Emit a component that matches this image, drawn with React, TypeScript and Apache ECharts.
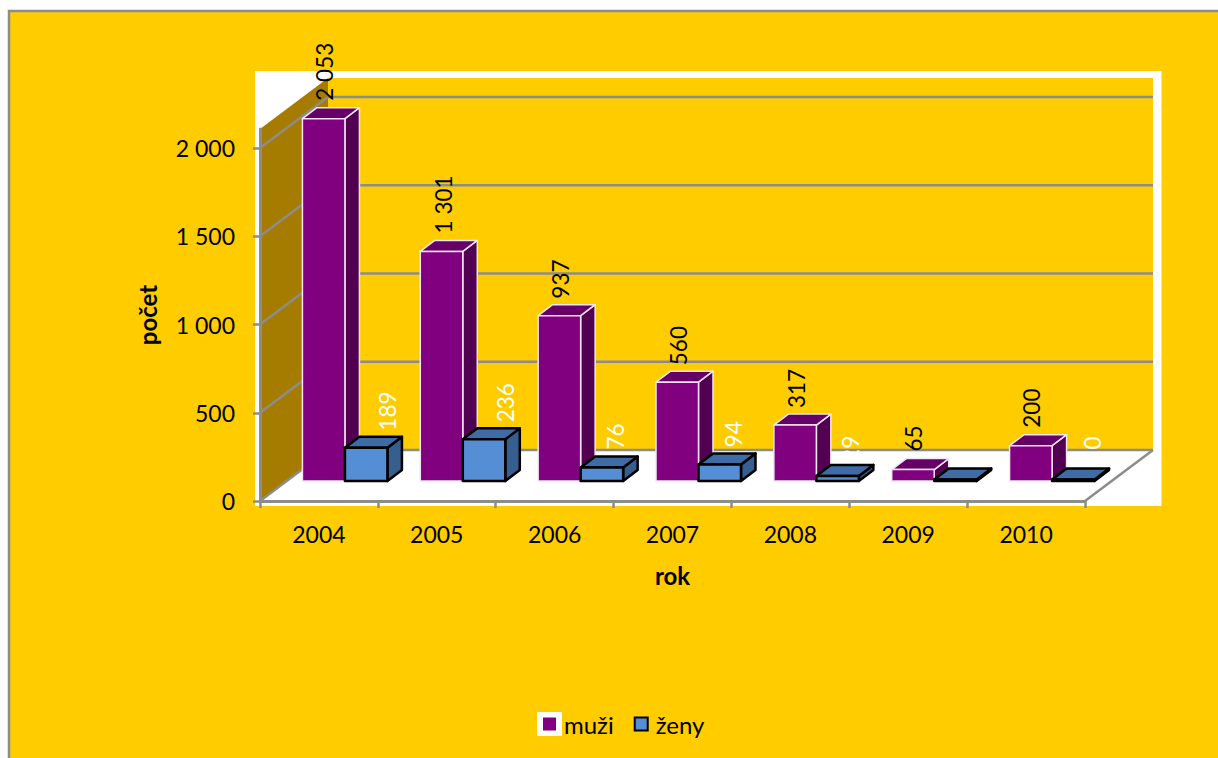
import React, { useEffect, useRef } from "react";
import * as echarts from "echarts";

const years = ["2004", "2005", "2006", "2007", "2008", "2009", "2010"];
const muzi = [2053, 1301, 937, 560, 317, 65, 200];
const zeny = [189, 236, 76, 94, 29, 0, 0];
const yTicks = [0, 500, 1000, 1500, 2000];

// label placement tweaks: [x shift from bar centre, gap above bar], null = no label
const muziLabelNudge = [[1, 7], [2, 7], [1, 6], [1, 6], [1, 6], [1, 7], [1, 7]];
const zenyLabelNudge = [[21, 6], [21, 6], [14, 7], [14, 6], [13, 3], null, [19, 19]];

const FONT = "Lato, Carlito, sans-serif";
const FS = 23;
const LABEL_FS = 22.5;
const GRAY = "#8c8c8c";
const YELLOW = "#FFCC00";
const DEPTH_X = 68;
const DEPTH_Y = -51;
const BAR_W = 42.5;
const BAR_DX = 14.5;
const BAR_DY = -11;
const PLANE_DX = 26;
const PLANE_DY = -20;
const MIN_FRONT = 1.5;

const fmt = (v: number) => String(v).replace(/\B(?=(\d{3})+$)/g, " ");

function barRenderer(
  side: -1 | 0,
  colors: { front: string; top: string; side: string; stroke: string; strokeW: number; label: string },
  nudges: (number[] | null)[]
) {
  return (params: any, api: any) => {
    const i = api.value(0);
    const v = api.value(1);
    const top = api.coord([i, v]);
    const base = api.coord([i, 0]);
    const x0 = base[0] + PLANE_DX + side * BAR_W;
    const x1 = x0 + BAR_W;
    const yB = base[1] + PLANE_DY;
    const yT = Math.min(top[1] + PLANE_DY, yB - MIN_FRONT);
    const st = {
      stroke: colors.stroke,
      lineWidth: colors.strokeW,
      lineJoin: "round",
    };
    const children: any[] = [
      {
        type: "polygon",
        shape: { points: [[x1, yT], [x1 + BAR_DX, yT + BAR_DY], [x1 + BAR_DX, yB + BAR_DY], [x1, yB]] },
        style: { fill: colors.side, ...st },
      },
      {
        type: "polygon",
        shape: { points: [[x0, yT], [x0 + BAR_DX, yT + BAR_DY], [x1 + BAR_DX, yT + BAR_DY], [x1, yT]] },
        style: { fill: colors.top, ...st },
      },
      {
        type: "polygon",
        shape: { points: [[x0, yT], [x1, yT], [x1, yB], [x0, yB]] },
        style: { fill: colors.front, ...st },
      },
    ];
    const n = nudges[i];
    if (n) {
      children.push({
        type: "text",
        x: (x0 + x1) / 2 + n[0],
        y: yT + BAR_DY - n[1],
        rotation: Math.PI / 2,
        style: {
          text: fmt(v),
          fill: colors.label,
          font: `${LABEL_FS}px ${FONT}`,
          align: "left",
          verticalAlign: "middle",
        },
      });
    }
    return { type: "group", children };
  };
}

function wallsRenderer(params: any, api: any) {
  const cs = params.coordSys;
  const left = cs.x;
  const right = cs.x + cs.width;
  const y0 = api.coord([0, 0])[1];
  const yTop = cs.y;
  const line = (x1: number, y1: number, x2: number, y2: number) => ({
    type: "line",
    shape: { x1, y1, x2, y2 },
    style: { stroke: GRAY, lineWidth: 2.5 },
  });
  const children: any[] = [
    {
      type: "rect",
      shape: { x: left + DEPTH_X, y: yTop + DEPTH_Y, width: cs.width, height: y0 - yTop },
      style: { fill: YELLOW },
    },
    {
      type: "polygon",
      shape: {
        points: [
          [left, yTop],
          [left + DEPTH_X, yTop + DEPTH_Y],
          [left + DEPTH_X, y0 + DEPTH_Y],
          [left, y0],
        ],
      },
      style: { fill: "#A67C00" },
    },
  ];
  yTicks.forEach((t) => {
    const y = api.coord([0, t])[1];
    children.push(line(left, y, left + DEPTH_X, y + DEPTH_Y));
    children.push(line(left + DEPTH_X, y + DEPTH_Y, right + DEPTH_X, y + DEPTH_Y));
  });
  children.push(line(right, y0, right + DEPTH_X, y0 + DEPTH_Y));
  return { type: "group", children };
}

export default function App() {
  const ref = useRef<HTMLDivElement>(null);
  useEffect(() => {
    const chart = echarts.init(ref.current!, null, { renderer: "svg" });
    chart.setOption({
      animation: false,
      backgroundColor: "#ffffff",
      textStyle: { fontFamily: FONT },
      graphic: [
        {
          type: "rect",
          z: -20,
          shape: { x: 9, y: 11, width: 1240, height: 800 },
          style: { fill: YELLOW, stroke: GRAY, lineWidth: 2.5 },
        },
        {
          type: "rect",
          z: -10,
          shape: { x: 255, y: 71, width: 906.5, height: 435 },
          style: { fill: "#ffffff" },
        },
        {
          type: "rect",
          z: -10,
          shape: { x: 537, y: 712, width: 25, height: 24 },
          style: { fill: "#ffffff" },
        },
      ],
      grid: { left: 260, top: 129, width: 825, height: 372 },
      xAxis: {
        type: "category",
        data: years,
        z: 10,
        name: "rok",
        nameLocation: "middle",
        nameGap: 62,
        nameTextStyle: { fontFamily: FONT, fontSize: 24, fontWeight: "bold", color: "#000" },
        axisLine: { show: true, lineStyle: { color: GRAY, width: 3 } },
        axisTick: { show: true, length: 7, lineStyle: { color: GRAY, width: 2.5 } },
        axisLabel: { color: "#000", fontFamily: FONT, fontSize: FS, margin: 21 },
      },
      yAxis: {
        type: "value",
        min: 0,
        max: 2108,
        interval: 500,
        z: 10,
        name: "počet",
        nameLocation: "middle",
        nameGap: 101,
        nameRotate: 90,
        nameTextStyle: { fontFamily: FONT, fontSize: 24, fontWeight: "bold", color: "#000" },
        splitLine: { show: false },
        axisLine: { show: true, lineStyle: { color: GRAY, width: 3 } },
        axisTick: { show: true, length: 7, lineStyle: { color: GRAY, width: 2.5 }, customValues: yTicks },
        axisLabel: {
          color: "#000",
          fontFamily: FONT,
          fontSize: FS,
          margin: 25,
          customValues: yTicks,
          formatter: (v: number) => fmt(v),
        },
      },
      legend: {
        show: true,
        data: ["muži", "ženy"],
        left: 543,
        top: 712,
        padding: 0,
        itemWidth: 13,
        itemHeight: 13,
        itemGap: 20,
        icon: "rect",
        textStyle: { color: "#000", fontFamily: FONT, fontSize: 24, padding: [0, 0, 0, 3] },
      },
      series: [
        {
          type: "custom",
          name: "walls",
          z: 1,
          silent: true,
          renderItem: wallsRenderer,
          data: [[0, 0]],
          encode: { x: 0, y: 1 },
        },
        {
          type: "custom",
          name: "muži",
          z: 2,
          itemStyle: { color: "#800080" },
          renderItem: barRenderer(
            -1,
            { front: "#800080", top: "#660066", side: "#520052", stroke: "#f2e6f2", strokeW: 1.5, label: "#000" },
            muziLabelNudge
          ),
          data: muzi.map((v, i) => [i, v]),
          encode: { x: 0, y: 1 },
        },
        {
          type: "custom",
          name: "ženy",
          z: 3,
          itemStyle: { color: "#558ED5", borderColor: "#000", borderWidth: 2.5 },
          renderItem: barRenderer(
            0,
            { front: "#558ED5", top: "#3F6CA5", side: "#365F8F", stroke: "#000", strokeW: 2.5, label: "#fff" },
            zenyLabelNudge
          ),
          data: zeny.map((v, i) => [i, v]),
          encode: { x: 0, y: 1 },
        },
      ],
    });
    return () => chart.dispose();
  }, []);
  return <div ref={ref} style={{ position: "absolute", left: 0, top: 0, width: 1218, height: 758 }} />;
}
